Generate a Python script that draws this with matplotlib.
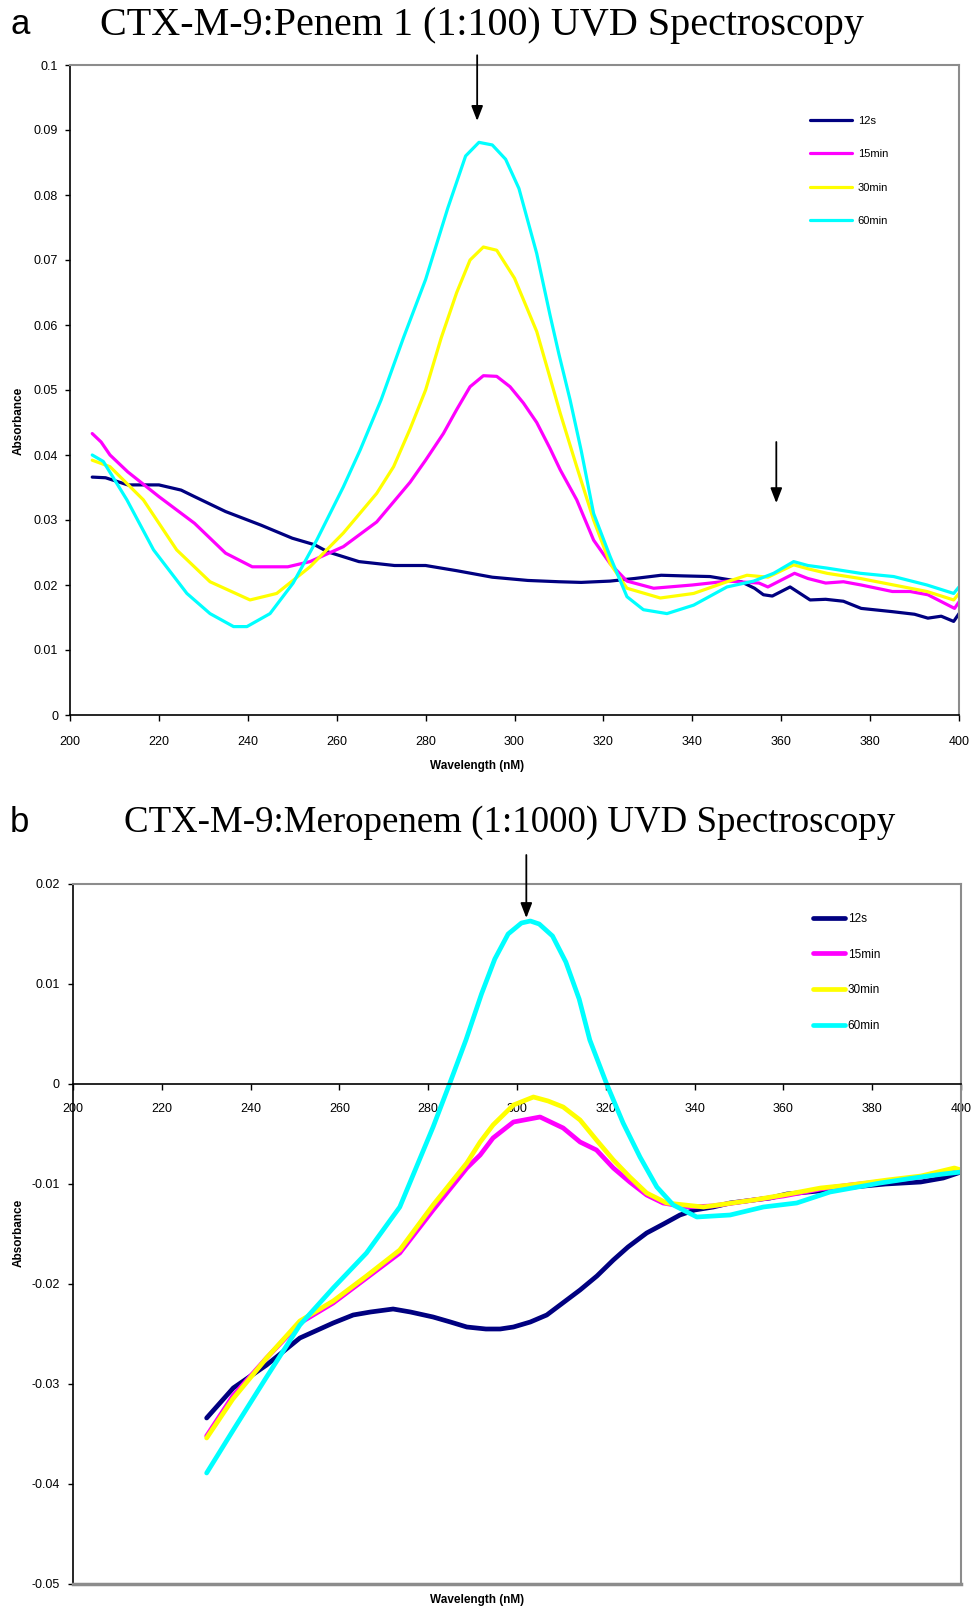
import matplotlib
matplotlib.use("Agg")
import matplotlib.pyplot as plt
import numpy as np

# ---------------- Data: panel a (CTX-M-9:Penem 1) ----------------
a_wl_12s = [205, 208, 213, 220, 225, 228, 235, 243, 250, 255, 258, 265, 273, 280, 287, 295, 303,
            310, 315, 321.5, 327, 333, 338, 344, 351, 354, 356, 358, 362, 366.5, 370, 374, 378,
            385, 390, 393, 396, 398.8, 400]
a_ab_12s = [0.0366, 0.0365, 0.0354, 0.0354, 0.0346, 0.0336, 0.0313, 0.0292, 0.0272, 0.0262, 0.0251,
            0.0236, 0.0230, 0.0230, 0.0222, 0.0212, 0.0207, 0.0205, 0.0204, 0.0206, 0.0210, 0.0215,
            0.0214, 0.0213, 0.0205, 0.0195, 0.0185, 0.0183, 0.0197, 0.0177, 0.0178, 0.0175, 0.0164,
            0.0159, 0.0155, 0.0149, 0.0152, 0.0144, 0.0156]

a_wl_15 = [205, 207, 209, 213, 220, 228, 235, 241, 249, 254, 261.5, 269, 276.5, 280, 284, 287, 290,
           293, 296, 299, 302, 305, 308, 310.3, 314, 317.8, 321.5, 325.3, 331.3, 340, 348, 355, 357,
           363, 366, 370, 374, 378, 385, 389, 393, 399, 400]
a_ab_15 = [0.0433, 0.0420, 0.0400, 0.0374, 0.0336, 0.0295, 0.0249, 0.0228, 0.0228, 0.0236, 0.0259,
           0.0297, 0.0358, 0.0392, 0.0433, 0.0470, 0.0505, 0.0522, 0.0521, 0.0505, 0.0480, 0.0450,
           0.0410, 0.0377, 0.0331, 0.0269, 0.0233, 0.0206, 0.0195, 0.0200, 0.0206, 0.0203, 0.0197,
           0.0218, 0.0210, 0.0203, 0.0205, 0.0200, 0.0190, 0.0190, 0.0185, 0.0164, 0.0174]

a_wl_30 = [205, 209, 216.5, 224, 231.5, 240.5, 246.5, 254, 261.5, 269, 272.8, 276.5, 280, 283.5,
           287, 290, 293, 296, 300, 305, 310.3, 314, 317.8, 321.5, 325.3, 332.8, 340.3, 347.8,
           352.3, 357, 362.8, 366, 370.3, 377.8, 385.3, 392.8, 398.8, 400]
a_ab_30 = [0.0392, 0.0382, 0.0331, 0.0254, 0.0205, 0.0177, 0.0187, 0.0228, 0.0280, 0.0341, 0.0382,
           0.0440, 0.0500, 0.0580, 0.0650, 0.0700, 0.0720, 0.0715, 0.0672, 0.0590, 0.0464, 0.0382,
           0.0300, 0.0233, 0.0195, 0.0180, 0.0187, 0.0205, 0.0215, 0.0212, 0.0231, 0.0225, 0.0218,
           0.0210, 0.0200, 0.0190, 0.0177, 0.0187]

a_wl_60 = [205, 207.5, 212.8, 218.8, 226.3, 231.5, 236.8, 239.8, 245, 250.2, 255.5, 261.5, 265.3,
           270, 275, 280, 285, 289, 292, 295, 298, 301, 305, 308, 310, 312.5, 315, 317.8, 321.5,
           325.3, 329, 334.3, 340.3, 347.8, 353.8, 358.3, 362.8, 366, 370.3, 377.8, 385.3, 392.8,
           398.8, 400]
a_ab_60 = [0.0400, 0.0390, 0.0331, 0.0254, 0.0187, 0.0156, 0.0136, 0.0136, 0.0156, 0.0203, 0.0269,
           0.0351, 0.0408, 0.0485, 0.0580, 0.0670, 0.0780, 0.0860, 0.0881, 0.0877, 0.0855, 0.0810,
           0.0710, 0.0615, 0.0555, 0.0485, 0.0407, 0.0310, 0.0244, 0.0182, 0.0162, 0.0156, 0.0169,
           0.0197, 0.0206, 0.0218, 0.0236, 0.0230, 0.0226, 0.0218, 0.0213, 0.0200, 0.0187, 0.0197]

# ---------------- Data: panel b (CTX-M-9:Meropenem) ----------------
b_wl_12s = [230.1, 236.1, 243.6, 251.1, 258.6, 263.1, 267, 272.1, 276, 281.1, 285, 288.7, 293,
            296.2, 299.2, 303, 306.7, 310, 314.2, 318, 321.7, 325, 329.2, 333, 336.7, 340, 344.2,
            348, 353.3, 357, 360.8, 368, 375.8, 383, 390.9, 396, 400]
b_ab_12s = [-0.0334, -0.0304, -0.0281, -0.0254, -0.0239, -0.0231, -0.0228, -0.0225, -0.0228,
            -0.0233, -0.0238, -0.0243, -0.0245, -0.0245, -0.0243, -0.0238, -0.0231, -0.0220,
            -0.0206, -0.0192, -0.0176, -0.0163, -0.0149, -0.0140, -0.0131, -0.0126, -0.0123,
            -0.0119, -0.0116, -0.0114, -0.0110, -0.0107, -0.0103, -0.0100, -0.0098, -0.0094,
            -0.0088]

b_wl_15 = [230.1, 236, 243.6, 251.1, 258.6, 266.1, 273.6, 281.1, 288.7, 291.7, 294.6, 299.2, 305.2,
           310.4, 314.2, 317.9, 321.7, 325.4, 329.2, 332.9, 338.2, 344, 353.3, 360, 368.4, 375,
           383.4, 391, 398.5, 400]
b_ab_15 = [-0.0352, -0.0312, -0.0274, -0.0239, -0.0219, -0.0194, -0.0169, -0.0126, -0.0084,
           -0.0071, -0.0054, -0.0038, -0.0033, -0.0044, -0.0058, -0.0066, -0.0084, -0.0098,
           -0.0111, -0.0119, -0.0123, -0.0122, -0.0116, -0.0112, -0.0105, -0.0101, -0.0097,
           -0.0093, -0.0086, -0.0087]

b_wl_30 = [230.1, 236, 243.6, 251.1, 258.6, 266.1, 273.6, 281.1, 288.7, 291.7, 294.6, 299.2, 303.7,
           307, 310.4, 314.2, 317.9, 321.7, 325.4, 329.2, 333.7, 342, 353.3, 360, 368.4, 375,
           383.4, 391, 398.5, 400]
b_ab_30 = [-0.0354, -0.0315, -0.0274, -0.0237, -0.0217, -0.0192, -0.0166, -0.0121, -0.0079,
           -0.0058, -0.0041, -0.0021, -0.0013, -0.0017, -0.0023, -0.0036, -0.0056, -0.0076,
           -0.0093, -0.0109, -0.0119, -0.0123, -0.0116, -0.0111, -0.0104, -0.0101, -0.0096,
           -0.0092, -0.0084, -0.0086]

b_wl_60 = [230.1, 236.1, 243.6, 251.1, 258.6, 266.1, 273.6, 281.1, 284.8, 288.5, 292, 295, 298,
           301, 303, 305, 308, 311, 314, 316.4, 320.2, 323.9, 327.7, 331.5, 335.2, 340.5, 348,
           355.5, 363, 370.5, 381.8, 389.3, 396, 400]
b_ab_60 = [-0.0389, -0.0346, -0.0293, -0.0241, -0.0204, -0.0169, -0.0123, -0.0043, 0.0000, 0.0044,
           0.0090, 0.0125, 0.0150, 0.0161, 0.0163, 0.0160, 0.0148, 0.0122, 0.0085, 0.0044, 0.0000,
           -0.0039, -0.0073, -0.0103, -0.0121, -0.0133, -0.0131, -0.0123, -0.0119, -0.0108,
           -0.0099, -0.0094, -0.0090, -0.0088]

series_labels = ["12s", "15min", "30min", "60min"]
series_colors = ["#000080", "#FF00FF", "#FFFF00", "#00FFFF"]

x_ticks = list(range(200, 401, 20))
a_yticks = [0, 0.01, 0.02, 0.03, 0.04, 0.05, 0.06, 0.07, 0.08, 0.09, 0.1]
a_ytick_labels = ["0", "0.01", "0.02", "0.03", "0.04", "0.05", "0.06", "0.07", "0.08", "0.09", "0.1"]
b_yticks = [0.02, 0.01, 0, -0.01, -0.02, -0.03, -0.04, -0.05]
b_ytick_labels = ["0.02", "0.01", "0", "-0.01", "-0.02", "-0.03", "-0.04", "-0.05"]

title_a = "CTX-M-9:Penem 1 (1:100) UVD Spectroscopy"
title_b = "CTX-M-9:Meropenem (1:1000) UVD Spectroscopy"
xlabel_a = "Wavelength (nM)"
xlabel_b = "Wavelength (nM)"
ylabel = "Absorbance"

# ---------------- Figure ----------------
W, H = 975, 1609
fig = plt.figure(figsize=(W / 100, H / 100), dpi=100)
narrow = ["Liberation Sans Narrow", "Liberation Sans", "DejaVu Sans"]
sans = ["Liberation Sans", "DejaVu Sans"]
serif = ["Liberation Serif", "DejaVu Serif"]

def fx(px):
    return px / W

def fy(py):
    return 1 - py / H

GRAY = "#8c8c8c"

axA = fig.add_axes([fx(70), fy(715), (959 - 70) / W, (715 - 65) / H])
axB = fig.add_axes([fx(73), fy(1584), (961 - 73) / W, (1584 - 884) / H])

a_data = [(a_wl_12s, a_ab_12s), (a_wl_15, a_ab_15), (a_wl_30, a_ab_30), (a_wl_60, a_ab_60)]
b_data = [(b_wl_12s, b_ab_12s), (b_wl_15, b_ab_15), (b_wl_30, b_ab_30), (b_wl_60, b_ab_60)]

for (wl, ab), lab, col in zip(a_data, series_labels, series_colors):
    axA.plot(wl, ab, color=col, lw=2.3, label=lab, solid_capstyle="round", solid_joinstyle="round")
for (wl, ab), lab, col in zip(b_data, series_labels, series_colors):
    axB.plot(wl, ab, color=col, lw=3.4, label=lab, solid_capstyle="round", solid_joinstyle="round")

# Panel a styling
axA.set_xlim(200, 400)
axA.set_ylim(0, 0.1)
axA.set_xticks(x_ticks)
axA.set_xticklabels([str(t) for t in x_ticks])
axA.set_yticks(a_yticks)
axA.set_yticklabels(a_ytick_labels)
for s in ["top", "right"]:
    axA.spines[s].set_color(GRAY)
    axA.spines[s].set_linewidth(1.5)
for s in ["left", "bottom"]:
    axA.spines[s].set_color("black")
    axA.spines[s].set_linewidth(1.2)
axA.tick_params(axis="x", direction="out", length=4, width=1, pad=11, labelsize=9)
axA.tick_params(axis="y", direction="out", length=3.5, width=1, pad=5, labelsize=9)

# Panel b styling
axB.set_xlim(200, 400)
axB.set_ylim(-0.05, 0.02)
axB.set_xticks(x_ticks)
axB.set_xticklabels([str(t) for t in x_ticks])
axB.set_yticks(b_yticks)
axB.set_yticklabels(b_ytick_labels)
axB.spines["bottom"].set_position(("data", 0))
axB.spines["bottom"].set_color("black")
axB.spines["bottom"].set_linewidth(1.2)
axB.spines["left"].set_color("black")
axB.spines["left"].set_linewidth(1.2)
for s in ["top", "right"]:
    axB.spines[s].set_color(GRAY)
    axB.spines[s].set_linewidth(1.5)
axB.axhline(-0.05, color=GRAY, lw=2.5, clip_on=False, zorder=5)
axB.tick_params(axis="x", direction="out", length=4, width=1, pad=10, labelsize=9)
axB.tick_params(axis="y", direction="out", length=3.5, width=1, pad=6, labelsize=9)

for ax in (axA, axB):
    for t in ax.get_xticklabels() + ax.get_yticklabels():
        t.set_fontfamily(narrow)

# Legends
legA = axA.legend(loc="upper left", bbox_to_anchor=((810 - 70) / 889, 1 - (116 - 65) / 650),
                  frameon=False, borderpad=0, borderaxespad=0, handlelength=3.8,
                  handletextpad=0.5, labelspacing=2.1, prop={"family": sans, "size": 8})
legB = axB.legend(loc="upper left", bbox_to_anchor=((813 - 73) / 888, 1 - (913 - 884) / 700),
                  frameon=False, borderpad=0, borderaxespad=0, handlelength=2.7,
                  handletextpad=0.25, labelspacing=2.0, prop={"family": sans, "size": 8.5})

# Arrows
arrow_kw = dict(arrowstyle="-|>,head_length=0.9,head_width=0.35", color="black", lw=1.3,
                shrinkA=0, shrinkB=0)
axA.annotate("", xy=(291.6, 0.0914), xytext=(291.6, 0.1015), arrowprops=arrow_kw,
             annotation_clip=False)
axA.annotate("", xy=(358.9, 0.0326), xytext=(358.9, 0.0420), arrowprops=arrow_kw,
             annotation_clip=False)
axB.annotate("", xy=(302.1, 0.0166), xytext=(302.1, 0.0229), arrowprops=arrow_kw,
             annotation_clip=False)

# Titles and panel letters
fig.text(fx(10), fy(24), "a", fontsize=25, family=sans, ha="left", va="center")
fig.text(fx(482), fy(25), title_a, fontsize=28.9, family=serif, ha="center", va="center")
fig.text(fx(10), fy(822), "b", fontsize=25, family=sans, ha="left", va="center")
fig.text(fx(510), fy(823), title_b, fontsize=26.6, family=serif, ha="center", va="center")

# Axis labels
fig.text(fx(477), fy(766), xlabel_a, fontsize=8.5, family=narrow, weight="bold", ha="center", va="center")
fig.text(fx(477), fy(1600), xlabel_b, fontsize=8.5, family=narrow, weight="bold", ha="center", va="center")
fig.text(fx(19), fy(421), ylabel, fontsize=8.5, family=narrow, weight="bold", ha="center", va="center",
         rotation=90)
fig.text(fx(19), fy(1233), ylabel, fontsize=8.5, family=narrow, weight="bold", ha="center", va="center",
         rotation=90)

fig.savefig("out.png", dpi=100)
